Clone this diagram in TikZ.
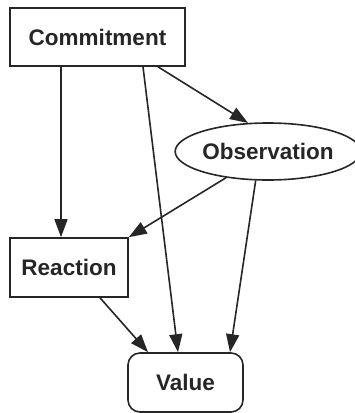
\documentclass[tikz,border=0pt]{standalone}
\usepackage{fontspec}
\setmainfont{Liberation Sans}
\usetikzlibrary{arrows.meta,shapes.geometric,calc}
\begin{document}
\begin{tikzpicture}[x=1pt,y=-1pt,
  every node/.style={font=\fontsize{22.5}{24}\selectfont\bfseries, text=black!85, draw=black!85, line width=1.6pt, inner sep=0pt},
  boxnode/.style={rectangle},
  ovalnode/.style={ellipse},
  roundnode/.style={rectangle, rounded corners=12pt},
  arr/.style={draw=black!85, line width=1.6pt, -{Triangle[length=18pt,width=13pt]}}]
\useasboundingbox (0,0) rectangle (355,413);
\node[boxnode, minimum width=175pt, minimum height=58pt] (com) at (97.5,37) {Commitment};
\node[ovalnode, minimum width=170pt, minimum height=57pt] (obs) at (268,151.5) {Observation};
\node[boxnode, minimum width=118pt, minimum height=59pt] (rea) at (69,267.5) {Reaction};
\node[roundnode, minimum width=115pt, minimum height=59pt] (val) at (185.5,382.5) {Value};
\draw[arr] ([xshift=-36.5pt]com.south) -- ([xshift=-8pt]rea.north);
\draw[arr] ([xshift=45.5pt]com.south) -- ([xshift=-7.5pt]val.north);
\draw[arr] ([xshift=60.5pt]com.south) -- (obs.125);
\draw[arr] (obs.-148) -- (rea.north east);
\draw[arr] (obs.-113) -- ([xshift=44.5pt]val.north);
\draw[arr] ([xshift=31pt]rea.south) -- ([xshift=-37.5pt]val.north);
\end{tikzpicture}
\end{document}
